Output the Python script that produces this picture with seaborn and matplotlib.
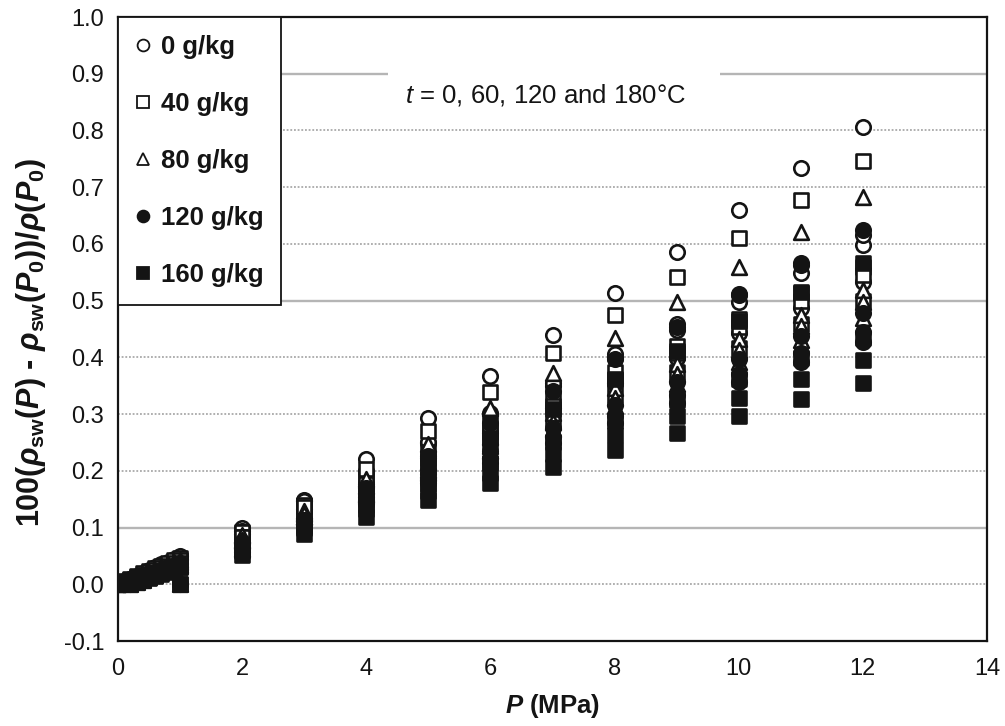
import matplotlib
matplotlib.use("Agg")
import matplotlib.pyplot as plt
import seaborn as sns
import pandas as pd
from matplotlib.lines import Line2D
from matplotlib.patches import Rectangle

# ---------------- data ----------------
P_LOW = [0.0, 0.1, 0.2, 0.3, 0.4, 0.5, 0.6, 0.7, 0.8, 0.9, 1.0]
P_LOW_120 = [0.2, 0.3, 0.4, 0.5, 0.6, 0.7, 0.8, 0.9, 1.0]
P_HIGH = [2, 3, 4, 5, 6, 7, 8, 9, 10, 11, 12]
P_180 = [1, 2, 3, 4, 5, 6, 7, 8, 9, 10, 11, 12]

SALINITIES = ["0 g/kg", "40 g/kg", "80 g/kg", "120 g/kg", "160 g/kg"]
TEMPS = [0, 60, 120, 180]

# S = 0 g/kg
S0_T0 = [0, .005, .010, .015, .020, .025, .030, .035, .040, .045, .050,
         .100, .149, .199, .249, .299, .349, .398, .448, .498, .548, .598]
S0_T60 = [0, .004, .009, .013, .018, .022, .027, .031, .035, .040, .044,
          .089, .133, .177, .222, .266, .310, .354, .399, .443, .487, .532]
S0_T120 = [0, .005, .010, .016, .021, .026, .031, .036, .042,
           .094, .146, .198, .250, .302, .354, .406, .458, .511, .563, .615]
S0_T180 = [0, .073, .147, .220, .293, .367, .440, .513, .586, .660, .733, .806]

# S = 40 g/kg
S40_T0 = [0, .005, .009, .014, .019, .023, .028, .033, .037, .042, .047,
          .093, .140, .187, .234, .280, .327, .374, .420, .467, .514, .560]
S40_T60 = [0, .004, .008, .013, .017, .021, .025, .029, .033, .038, .042,
           .083, .125, .167, .209, .250, .292, .334, .375, .417, .459, .500]
S40_T120 = [0, .005, .009, .014, .018, .023, .028, .032, .037,
            .083, .129, .176, .222, .268, .314, .360, .407, .453, .499, .545]
S40_T180 = [0, .068, .136, .203, .271, .339, .407, .475, .542, .610, .678, .746]

# S = 80 g/kg
S80_T0 = [0, .004, .009, .013, .017, .022, .026, .030, .035, .039, .043,
          .086, .130, .173, .216, .259, .302, .346, .389, .432, .475, .518]
S80_T60 = [0, .004, .008, .012, .016, .020, .024, .027, .031, .035, .039,
           .078, .118, .157, .196, .235, .274, .314, .353, .392, .431, .470]
S80_T120 = [0, .004, .008, .013, .017, .021, .025, .029, .034,
            .076, .118, .160, .202, .244, .286, .328, .370, .413, .455, .497]
S80_T180 = [0, .062, .124, .186, .248, .311, .373, .435, .497, .559, .621, .683]

# S = 120 g/kg
S120_T0 = [0, .004, .007, .011, .015, .019, .022, .026, .030, .033, .037,
           .074, .111, .148, .186, .223, .260, .297, .334, .371, .408, .445]
S120_T60 = [0, .004, .007, .011, .014, .018, .021, .025, .028, .032, .036,
            .071, .107, .142, .178, .214, .249, .285, .320, .356, .392, .427]
S120_T120 = [0, .004, .008, .012, .016, .020, .024, .028, .032,
             .073, .113, .154, .194, .235, .275, .316, .356, .397, .437, .478]
S120_T180 = [0, .057, .113, .170, .227, .284, .340, .397, .454, .510, .567, .624]

# S = 160 g/kg
S160_T0 = [0, .003, .007, .010, .013, .016, .020, .023, .026, .030, .033,
           .066, .099, .132, .165, .197, .230, .263, .296, .329, .362, .395]
S160_T60 = [0, .003, .006, .009, .012, .015, .018, .021, .024, .027, .030,
            .059, .089, .118, .148, .178, .207, .237, .266, .296, .326, .355]
S160_T120 = [0, .004, .007, .011, .015, .018, .022, .026, .030,
             .066, .103, .140, .177, .214, .251, .288, .325, .362, .399, .435]
S160_T180 = [0, .052, .103, .155, .206, .258, .309, .361, .412, .464, .515, .567]

SERIES = {
    "0 g/kg": [S0_T0, S0_T60, S0_T120, S0_T180],
    "40 g/kg": [S40_T0, S40_T60, S40_T120, S40_T180],
    "80 g/kg": [S80_T0, S80_T60, S80_T120, S80_T180],
    "120 g/kg": [S120_T0, S120_T60, S120_T120, S120_T180],
    "160 g/kg": [S160_T0, S160_T60, S160_T120, S160_T180],
}
P_FOR_TEMP = [P_LOW + P_HIGH, P_LOW + P_HIGH, P_LOW_120 + P_HIGH, P_180]

rows = []
for sal in SALINITIES:
    for t, vals, ps in zip(TEMPS, SERIES[sal], P_FOR_TEMP):
        for p, v in zip(ps, vals):
            rows.append({"P": p, "value": v, "salinity": sal, "t": t})
df = pd.DataFrame(rows)

# ---------------- style ----------------
sns.set_theme(style="white")
plt.rcParams["font.family"] = ["Liberation Sans", "DejaVu Sans"]
plt.rcParams["axes.unicode_minus"] = False
plt.rcParams["mathtext.fontset"] = "custom"
plt.rcParams["mathtext.rm"] = "Liberation Sans:bold"
plt.rcParams["mathtext.it"] = "Liberation Sans:italic:bold"
plt.rcParams["mathtext.bf"] = "Liberation Sans:bold"
plt.rcParams["mathtext.sf"] = "Liberation Sans:italic"

MARKERS = {"0 g/kg": ("o", False), "40 g/kg": ("s", False), "80 g/kg": ("^", False),
           "120 g/kg": ("o", True), "160 g/kg": ("s", True)}
SIZES = {"o": 108, "s": 92, "^": 112}
INK = "#141414"

fig = plt.figure(figsize=(10.05, 7.26), dpi=100)
ax = fig.add_axes([118 / 1005, 1 - 641 / 726, (987 - 118) / 1005, (641 - 17) / 726])

# grid lines
for yv in [0.0, 0.2, 0.3, 0.4, 0.6, 0.7, 0.8]:
    ax.axhline(yv, color="#9a9a9a", lw=1.1, ls=(0, (1.2, 1.2)), zorder=0)
for yv in [0.1, 0.5, 0.9]:
    ax.axhline(yv, color="#b5b5b5", lw=1.7, ls="-", zorder=0)

for sal in SALINITIES:
    m, filled = MARKERS[sal]
    sub = df[df["salinity"] == sal]
    sns.scatterplot(data=sub, x="P", y="value", ax=ax, marker=m, s=SIZES[m],
                    color=INK if filled else "white", edgecolor=INK,
                    linewidth=1.9, legend=False, zorder=3)

ax.set_xlim(0, 14)
ax.set_ylim(-0.1, 1.0)
ax.set_xticks(range(0, 15, 2))
ax.set_yticks([-0.1, 0.0, 0.1, 0.2, 0.3, 0.4, 0.5, 0.6, 0.7, 0.8, 0.9, 1.0])
ax.set_yticklabels([f"{v:.1f}" for v in ax.get_yticks()])
ax.tick_params(axis="both", direction="in", length=6, width=1.3, labelsize=17,
               colors=INK)
ax.tick_params(axis="x", pad=12)
ax.tick_params(axis="y", pad=10)
for sp in ax.spines.values():
    sp.set_visible(True)
    sp.set_color(INK)
    sp.set_linewidth(1.6)

ax.set_xlabel(r"$P$ (MPa)", fontsize=18.5, fontweight="bold", color=INK, labelpad=9)
ax.set_ylabel(r"$\mathrm{100(}\rho_{\mathrm{sw}}(P)$ - $\rho_{\mathrm{sw}}(P_0))/\rho(P_0)$",
              fontsize=22, fontweight="bold", color=INK)
ax.yaxis.set_label_coords(-0.081, 0.478)

# legend
handles = []
for sal in SALINITIES:
    m, filled = MARKERS[sal]
    handles.append(Line2D([], [], ls="none", marker=m, markersize=8.5 if m != "s" else 8,
                          markerfacecolor=INK if filled else "white",
                          markeredgecolor=INK, markeredgewidth=1.3))
leg = ax.legend(handles, SALINITIES, loc="upper left", bbox_to_anchor=(0, 1),
                borderaxespad=0, frameon=True, fancybox=False, framealpha=1,
                edgecolor=INK, prop={"weight": "bold", "size": 18.5},
                labelspacing=1.28, handlelength=0.56, handletextpad=0.4,
                borderpad=0.7, labelcolor=INK)
leg.get_frame().set_linewidth(1.3)
leg.set_zorder(5)

# annotation with white background covering the grid line
ax.add_patch(Rectangle((0.311, 0.827), 0.382, 0.101, transform=ax.transAxes,
                       facecolor="white", edgecolor="none", zorder=1))
ax.text(0.4925, 0.875, r"$\mathsf{t}$ = 0, 60, 120 and 180°C", transform=ax.transAxes,
        ha="center", va="center", fontsize=18.5, color=INK, zorder=4)

fig.savefig("out.png", dpi=100)
